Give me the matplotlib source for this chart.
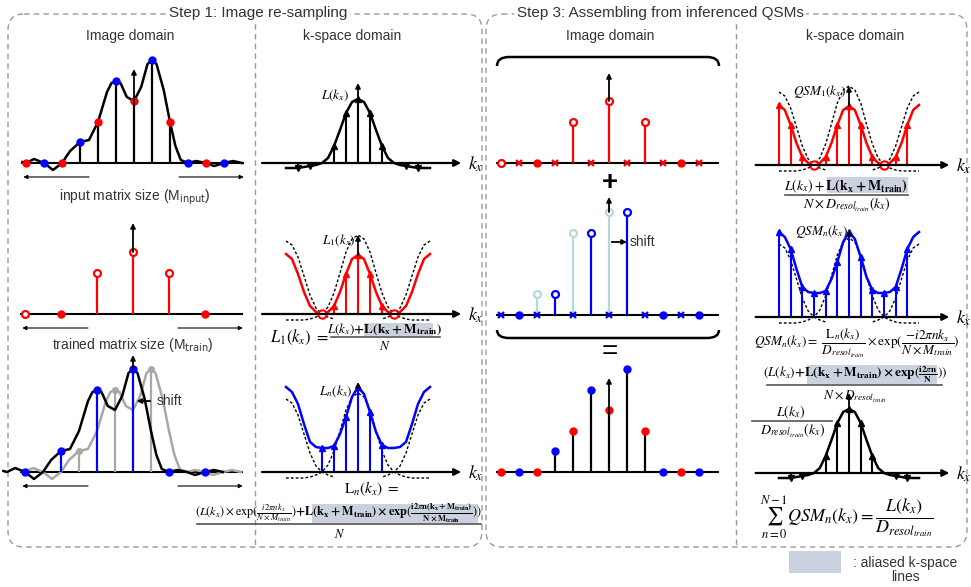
import numpy as np
import matplotlib.pyplot as plt
from matplotlib.patches import FancyBboxPatch, Rectangle, PathPatch
from matplotlib.path import Path

W, H = 971, 587
plt.rcParams['font.family'] = ['Liberation Sans', 'DejaVu Sans']

# ---- data ----
# image-domain samples of the object, index 0..11 (height in px)
img_t = np.arange(12)
img_h = np.array([0, 0, 0, 21, 41, 82, 62, 103, 41, 0, 0, 0])

# continuous object profile through those samples
prof_t = np.array([-0.2, 0, 0.45, 1, 1.5, 2, 2.45, 3, 3.5, 4, 4.5, 4.75, 5, 5.25,
                   5.6, 6, 6.4, 6.75, 7, 7.25, 7.65, 8, 8.3, 8.6, 9, 9.45, 10,
                   10.45, 11, 11.5, 12])
prof_h = np.array([1, 0, 4, 0, -7, 0, 12, 21, 23, 41, 71, 80, 82, 80,
                   66, 62, 76, 99, 103, 99, 73, 41, 17, 3, 0, 2, 0,
                   -3, 0, 2, 0])
shift = 1  # one sample shift

# k-space curves on k = -6..6 (step 0.5)
k = np.arange(-6, 6.5, 0.5)
L_h = np.array([-5, -5, -5, -4, -3, -2, 0, 5, 17, 33, 50, 61, 64,
                61, 50, 33, 17, 5, 0, -2, -3, -4, -5, -5, -5])
L1_h = np.array([60, 55, 40, 22, 8, 2, 0, 2, 8, 22, 40, 55, 59,
                 55, 40, 22, 8, 2, 0, 2, 8, 22, 40, 55, 60])
Ln_h = np.array([85, 80, 68, 48, 30, 25, 24, 24, 26, 38, 55, 75, 85,
                 78, 60, 40, 27, 24, 24, 25, 30, 48, 68, 80, 85])
alias_mid = np.array([-6, -6, -6, -6, -5, -3, 0, 7, 21, 41, 62, 75, 79,
                      75, 62, 41, 21, 7, 0, -3, -5, -6, -6, -6, -6])
side_k = np.array([-6, -5.5, -5, -4.5, -4, -3.5, -3, -2.5, -2])
alias_side = np.array([73, 69, 57, 38, 19, 6, 0, -3, -5])

stems_up = [-2, -1, 0, 1, 2]
stems_dn = [-5, -4, 4, 5]
zeros_k = [-3, 3]
stems_F = [-3, -2, -1, 0, 1, 2]
stems_qsm1 = [-6, -5, -4, -2, -1, 0, 1, 2, 4, 5]
stems_qsmn = list(range(-6, 6))

# tops of the black centre arrows
top_A, top_C, top_E = 94, 91, 117
top_T, top_M, top_S = 90, 118, 94
top_B, top_D, top_F = 80, 79, 90
top_Q1, top_Qn, top_Q = 79, 87, 80

RED, BLUE, GRAY, LIGHT = '#ff0000', '#0000ff', '#a8a8a8', '#b8d7da'
HL = '#cbd2df'

fig = plt.figure(figsize=(W / 100, H / 100), dpi=100)
ov = fig.add_axes([0, 0, 1, 1])
ov.set_xlim(0, W)
ov.set_ylim(H, 0)
ov.axis('off')


def mt(x, y, s, size, **kw):
    kw.setdefault('ha', 'center')
    ov.text(x, y, s, fontsize=size, math_fontfamily='stix', va='center', zorder=4, **kw)


def hline(x0, x1, y):
    ov.plot([x0, x1], [y, y], color='#555555', lw=1.2, zorder=4)


def hl(x, y, w, h):
    ov.add_patch(Rectangle((x, y), w, h, color=HL, lw=0, zorder=2))


# frames
dash = (0, (4, 3))
for x0, x1, title, tx, div in [(8, 482, 'Step 1: Image re-sampling', 258, 255),
                               (486, 967, 'Step 3: Assembling from inferenced QSMs', 660, 736)]:
    ov.add_patch(FancyBboxPatch((x0, 14), x1 - x0, 533, boxstyle='round,pad=0,rounding_size=16',
                                fc='none', ec='#9a9a9a', lw=1, ls=dash))
    ov.plot([div, div], [14, 547], color='#9a9a9a', lw=1, ls=dash)
    ov.text(tx, 13, title, ha='center', va='center', fontsize=11, color='#333333', zorder=4,
            bbox=dict(fc='white', ec='none', pad=2))

for x, s in [(130, 'Image domain'), (352, 'k-space domain'),
             (610, 'Image domain'), (855, 'k-space domain')]:
    ov.text(x, 36, s, ha='center', va='center', fontsize=10, color='#333333')

ov.text(135, 197, r'input matrix size (M$_{\mathrm{input}}$)', ha='center', va='center',
        fontsize=10, color='#333333')
ov.text(133, 345, r'trained matrix size (M$_{\mathrm{train}}$)', ha='center', va='center',
        fontsize=10, color='#333333')


def ipanel(x0, base, lo=-1.4, hi=12.4):
    ax = fig.add_axes([(x0 + 18 * lo) / W, 1 - (base + 25) / H, 18 * (hi - lo) / W, 145 / H])
    ax.set_xlim(lo, hi)
    ax.set_ylim(-25, 120)
    ax.axis('off')
    ax.plot([-0.2, 12.05], [0, 0], color='black', lw=1.5)
    return ax


def kpanel(cx, dk, base):
    lo, hi = -8.6, 10.6
    ax = fig.add_axes([(cx + dk * lo) / W, 1 - (base + 25) / H, dk * (hi - lo) / W, 145 / H])
    ax.set_xlim(lo, hi)
    ax.set_ylim(-25, 120)
    ax.axis('off')
    ax.annotate('', xy=(8.6, 0), xytext=(-8, 0),
                arrowprops=dict(arrowstyle='-|>', color='black', lw=1.6, mutation_scale=10,
                                shrinkA=0, shrinkB=0))
    ax.text(9.8, -1, '$k_x$', fontsize=13, math_fontfamily='stix', ha='center', va='center')
    return ax


def up_arrow(ax, x, y0, y1):
    ax.annotate('', xy=(x, y1), xytext=(x, y0),
                arrowprops=dict(arrowstyle='-|>', color='black', lw=1.3, mutation_scale=7,
                                shrinkA=0, shrinkB=0), zorder=5)


def spans(ax):
    for a, b in [(3.5, -0.15), (8.5, 12.1)]:
        ax.annotate('', xy=(b, -14), xytext=(a, -14),
                    arrowprops=dict(arrowstyle='-|>', color='black', lw=0.8, mutation_scale=6,
                                    shrinkA=0, shrinkB=0))


def kstems(ax, ks, curve, color):
    hs = np.interp(ks, k, curve)
    ax.vlines(ks, 0, hs, color=color, lw=1.5)
    up = hs > 0
    ax.plot(np.array(ks)[up], hs[up], '^', color=color, ms=4)
    ax.plot(np.array(ks)[~up], hs[~up], 'v', color=color, ms=4)
    return hs


def alias(ax):
    st = dict(color='black', lw=1, ls=(0, (2, 1.5)))
    ax.plot(k, alias_mid, **st)
    ax.plot(side_k, alias_side, **st)
    ax.plot(-side_k, alias_side, **st)


odd, oddh = img_t[1::2], img_h[1::2]
even, evenh = img_t[0::2], img_h[0::2]
# even samples shown as filled dots on the baseline (all but the first)
flat = (evenh == 0) & (even > 0)


def red_samples(ax):
    ax.plot(even[~flat], evenh[~flat], 'o', mfc='white', mec=RED, mew=1.6, ms=5)
    ax.plot(even[flat], evenh[flat], 'o', color=RED, ms=5)


# ---- Step 1, image domain ----
axA = ipanel(26, 163)
axA.vlines(img_t, 0, img_h, color='black', lw=1.6)
up_arrow(axA, 6, 0, top_A)
axA.plot(prof_t, prof_h, color='black', lw=1.8)
axA.plot(even, evenh, 'o', color=RED, ms=5)
axA.plot(odd, oddh, 'o', color=BLUE, ms=5)
spans(axA)

axC = ipanel(25, 314)
axC.vlines(even, 0, evenh, color=RED, lw=1.6)
up_arrow(axC, 6, img_h[6], top_C)
red_samples(axC)
spans(axC)

axE = ipanel(25, 472)
axE.plot(prof_t, prof_h, color=GRAY, lw=1.8)
axE.vlines(odd, 0, oddh, color=GRAY, lw=1.6)
axE.plot(odd[oddh > 0], oddh[oddh > 0], 'o', color=GRAY, ms=4)
axE.plot(prof_t - shift, prof_h, color='black', lw=1.8)
axE.vlines(odd - shift, 0, oddh, color=BLUE, lw=1.6)
up_arrow(axE, 6, img_h[7], top_E)
axE.plot(odd - shift, oddh, 'o', color=BLUE, ms=5)
axE.annotate('', xy=(6.2, 71), xytext=(6.95, 71),
             arrowprops=dict(arrowstyle='-|>', color='black', lw=1.3, mutation_scale=7,
                             shrinkA=0, shrinkB=0))
axE.text(7.3, 71, 'shift', fontsize=10, va='center', color='#333333')
spans(axE)

# ---- Step 1, k-space ----
axB = kpanel(358, 12, 163)
axB.plot(k, L_h, color='black', lw=1.8)
hB = kstems(axB, stems_up, L_h, 'black')
kstems(axB, stems_dn, L_h, 'black')
up_arrow(axB, 0, 0, top_B)
mt(335, 95, r'$L(k_x)$', 9.5)

axD = kpanel(358, 12, 314)
alias(axD)
axD.plot(k, L1_h, color=RED, lw=1.8)
hD = kstems(axD, stems_up, L1_h, RED)
axD.plot(zeros_k, [0, 0], 'o', mfc='white', mec=RED, mew=1.5, ms=6)
up_arrow(axD, 0, hD[2], top_D)
mt(339, 240, r'$L_1(k_x)$', 9.5)
mt(270, 337, r'$L_1(k_x)\ =$', 12, ha='left')
hl(364, 323, 69, 13)
mt(385, 329, r'$L(k_x)\mathbf{+L(k_x+M_{train})}$', 9.5)
hline(331, 440, 337)
mt(385, 346, r'$N$', 9.5)

axF = kpanel(358, 12, 472)
alias(axF)
axF.plot(k, Ln_h, color=BLUE, lw=1.8)
hF = kstems(axF, stems_F, Ln_h, BLUE)
up_arrow(axF, 0, hF[3], top_F)
mt(336, 391, r'$L_n(k_x)$', 9.5)
mt(372, 489, r'$\mathrm{L}_n(k_x)\ =$', 11)
hl(312, 504, 166, 19)
mt(338, 513, r'$(L(k_x)\times\exp(\frac{i2\pi nk_x}{N\times M_{train}})'
             r'\mathbf{+L(k_x+M_{train})\times exp}(\frac{\mathbf{i2}\pi\mathbf{n(k_x+M_{train})}}'
             r'{\mathbf{N\times M_{train}}}))$', 8.8)
hline(197, 481, 524)
mt(340, 534, r'$N$', 9)

# ---- Step 3, image domain ----
axT = ipanel(501, 163)
axT.vlines(even, 0, evenh, color=RED, lw=1.6)
up_arrow(axT, 6, img_h[6], top_T)
red_samples(axT)
axT.plot(odd, np.zeros(len(odd)), 'x', color=RED, ms=4, mew=1.6)

axM = ipanel(501, 315)
axM.vlines(odd - shift, 0, oddh, color=LIGHT, lw=1.6)
axM.plot((odd - shift)[oddh > 0], oddh[oddh > 0], 'o', mfc='white', mec=LIGHT, mew=1.6, ms=5)
up_arrow(axM, 6, img_h[7], top_M)
axM.vlines(odd, 0, oddh, color=BLUE, lw=1.6)
axM.plot(odd[oddh > 0], oddh[oddh > 0], 'o', mfc='white', mec=BLUE, mew=1.6, ms=5)
axM.plot(odd[oddh == 0], oddh[oddh == 0], 'o', color=BLUE, ms=5)
axM.plot(even, np.zeros(len(even)), 'x', color=BLUE, ms=4, mew=1.6)
axM.annotate('', xy=(7.0, 73), xytext=(6.15, 73),
             arrowprops=dict(arrowstyle='-|>', color='black', lw=1.3, mutation_scale=7,
                             shrinkA=0, shrinkB=0))
axM.text(7.15, 73, 'shift', fontsize=10, va='center', color='#333333')

axS = ipanel(501, 472)
axS.vlines(img_t, 0, img_h, color='black', lw=1.6)
up_arrow(axS, 6, 0, top_S)
axS.plot(even, evenh, 'o', color=RED, ms=5)
axS.plot(odd, oddh, 'o', color=BLUE, ms=5)


def brace(y_end, y_line):
    verts = [(497, y_end), (497, y_line), (509, y_line), (707, y_line),
             (719, y_line), (719, y_end)]
    codes = [Path.MOVETO, Path.CURVE3, Path.CURVE3, Path.LINETO, Path.CURVE3, Path.CURVE3]
    ov.add_patch(PathPatch(Path(verts, codes), fc='none', ec='black', lw=1.8))


brace(66, 57)
brace(330, 338)
ov.text(610, 183, '+', ha='center', va='center', fontsize=20, fontweight='bold')
ov.text(610, 352, '=', ha='center', va='center', fontsize=20)

# ---- Step 3, k-space ----
axQ1 = kpanel(849, 11.67, 165)
alias(axQ1)
axQ1.plot(k, L1_h, color=RED, lw=1.8)
hQ1 = kstems(axQ1, stems_qsm1, L1_h, RED)
axQ1.plot(zeros_k, [0, 0], 'o', mfc='white', mec=RED, mew=1.5, ms=6)
up_arrow(axQ1, 0, hQ1[5], top_Q1)
mt(820, 92, r'$QSM_1(k_x)$', 9.5)
hl(827, 177, 81, 16)
mt(846, 186, r'$L(k_x)+\mathbf{L(k_x+M_{train})}$', 10)
hline(785, 908, 195)
mt(847, 205, r'$N\times D_{resol_{train}}(k_x)$', 10)

axQn = kpanel(849, 11.67, 317)
alias(axQn)
axQn.plot(k, Ln_h, color=BLUE, lw=1.8)
hQn = kstems(axQn, stems_qsmn, Ln_h, BLUE)
up_arrow(axQn, 0, hQn[6], top_Qn)
mt(822, 231, r'$QSM_n(k_x)$', 9.5)
mt(857, 343, r'$QSM_n(k_x)=\ \dfrac{\mathrm{L}_n(k_x)}{D_{resol_{train}}}\times'
             r'\exp(\dfrac{-i2\pi nk_x}{N\times M_{train}})$', 9.5)
hl(807, 365, 130, 19)
mt(855, 375, r'$(L(k_x)\mathbf{+L(k_x+M_{train})\times exp}(\frac{\mathbf{i2}\pi\mathbf{n}}'
             r'{\mathbf{N}}))$', 9.5)
hline(767, 942, 385)
mt(855, 397, r'$N\times D_{resol_{train}}$', 9.5)

axQ = kpanel(849, 11.67, 473)
axQ.plot(k, L_h, color='black', lw=1.8)
kstems(axQ, stems_up, L_h, 'black')
kstems(axQ, stems_dn, L_h, 'black')
up_arrow(axQ, 0, 0, top_Q)
mt(791, 412, r'$L(k_x)$', 10)
hline(752, 832, 421)
mt(793, 431, r'$D_{resol_{train}}(k_x)$', 10)
mt(847, 517, r'$\sum_{n=0}^{N-1}QSM_n(k_x)=\dfrac{L(k_x)}{D_{resol_{train}}}$', 13)

# legend
hl(789, 551, 52, 22)
ov.text(905, 570, ': aliased k-space\nlines', ha='center', va='center', fontsize=10,
        linespacing=1.0, color='#333333')

fig.savefig('out.png', dpi=100)
